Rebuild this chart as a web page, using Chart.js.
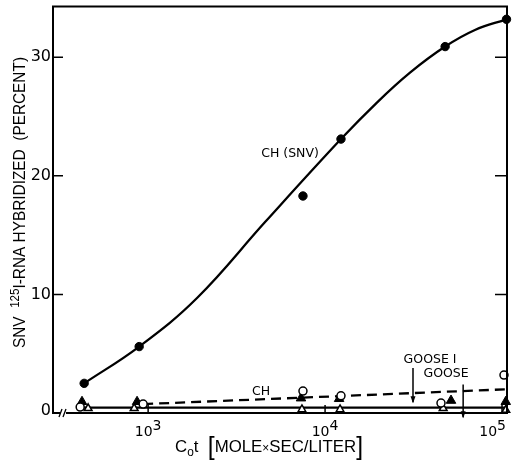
<!DOCTYPE html>
<html>
<head>
<meta charset="utf-8">
<script src="https://cdn.jsdelivr.net/npm/chart.js@4/dist/chart.umd.min.js"></script>
<style>
html,body{margin:0;padding:0;background:#fff;}
canvas{display:block;}
</style>
</head>
<body>
<canvas id="c" width="521" height="460"></canvas>
<script>
// ---- data ----
// CH (SNV): filled circles
const snvCot = [435, 890, 7500, 12300, 47700, 106000];
const snvVal = [2.5, 5.6, 18.3, 23.1, 30.9, 33.2];
// smooth curve drawn through CH (SNV)
const curveCot = [435, 890, 1890, 4580, 12300, 19700, 30200, 47700, 70300, 106000];
const curveVal = [2.5, 5.6, 9.7, 16.1, 23.1, 26.2, 28.7, 30.9, 32.3, 33.2];
// CH: open circles
const chCot = [413, 937, 7500, 12300, 45200, 102600];
const chVal = [0.5, 0.75, 1.85, 1.45, 0.84, 3.2];
// GOOSE I: filled triangles
const gooseICot = [423, 866, 7310, 12000, 51500, 105000];
const gooseIVal = [0.95, 0.95, 1.25, 1.2, 1.05, 0.95];
// GOOSE: open triangles
const gooseCot = [458, 834, 7400, 12150, 46500, 105000];
const gooseVal = [0.4, 0.4, 0.3, 0.3, 0.4, 0.25];
// fitted lines
const chLineCot = [937, 106000];
const chLineVal = [0.75, 2.0];
const gooseLineCot = [435, 106000];
const gooseLineVal = [0.45, 0.45];
// axis ticks
const xTickExp = [3, 4, 5];
const yTicks = [0, 10, 20, 30];

const pts = (xs, ys) => xs.map((x, i) => ({x: x, y: ys[i]}));

const FONT = '"DejaVu Sans", sans-serif';
const LFONT = '"Liberation Sans", Arial, sans-serif';

function drawParts(ctx, parts, startX, baseY, sx, fam) {
  ctx.save();
  ctx.translate(startX, baseY);
  ctx.scale(sx, 1);
  let x = 0;
  for (const p of parts) {
    ctx.font = p.f + 'px ' + fam;
    ctx.fillText(p.t, x, p.dy || 0);
    x += ctx.measureText(p.t).width;
  }
  ctx.restore();
}
function partsWidth(ctx, parts, fam) {
  let w = 0;
  for (const p of parts) { ctx.font = p.f + 'px ' + fam; w += ctx.measureText(p.t).width; }
  return w;
}

const annot = {
  id: 'annot',
  afterDraw(chart) {
    const ctx = chart.ctx;
    const xs = chart.scales.x, ys = chart.scales.y;
    const a = chart.chartArea;
    ctx.save();
    ctx.strokeStyle = '#000';
    ctx.fillStyle = '#000';
    ctx.lineWidth = 2;
    // frame
    ctx.beginPath();
    ctx.moveTo(a.left, a.top); ctx.lineTo(a.right, a.top);
    ctx.lineTo(a.right, a.bottom); ctx.lineTo(a.left, a.bottom); ctx.closePath();
    ctx.stroke();
    // axis break on the x axis
    ctx.fillStyle = '#fff';
    ctx.fillRect(a.left + 7, a.bottom - 2, 6, 4);
    ctx.fillStyle = '#000';
    ctx.lineWidth = 1.3;
    ctx.beginPath();
    ctx.moveTo(a.left + 6, a.bottom + 4); ctx.lineTo(a.left + 9, a.bottom - 4);
    ctx.moveTo(a.left + 10, a.bottom + 4); ctx.lineTo(a.left + 13, a.bottom - 4);
    ctx.stroke();
    // y ticks (inward, left and right)
    ctx.lineWidth = 1.5;
    for (const v of yTicks) {
      if (v === 0) continue;
      const py = ys.getPixelForValue(v);
      ctx.beginPath();
      ctx.moveTo(a.left, py); ctx.lineTo(a.left + 10, py);
      ctx.moveTo(a.right, py); ctx.lineTo(a.right - 12, py);
      ctx.stroke();
    }
    // y tick labels
    ctx.font = '16px ' + FONT;
    ctx.textAlign = 'right';
    ctx.textBaseline = 'middle';
    for (const v of yTicks) {
      const py = ys.getPixelForValue(v);
      ctx.fillText(String(v), a.left - 2, py - (v === 0 ? 2 : 0));
    }
    // x ticks and labels
    ctx.textAlign = 'left';
    ctx.textBaseline = 'alphabetic';
    for (const e of xTickExp) {
      const v = Math.pow(10, e);
      const px = xs.getPixelForValue(v);
      ctx.beginPath();
      ctx.moveTo(px, a.bottom); ctx.lineTo(px, a.bottom - 8);
      ctx.stroke();
      ctx.font = '14px ' + FONT;
      const w1 = ctx.measureText('10').width;
      const w2 = ctx.measureText(String(e)).width;
      let sx = px - (w1 + w2) / 2;
      if (sx + w1 + w2 > a.right) sx = a.right - (w1 + w2) - 1;
      ctx.fillText('10', sx, 436);
      ctx.fillText(String(e), sx + w1, 430);
    }
    // x axis title
    const xParts = [
      {t: 'C', f: 17}, {t: 'o', f: 12, dy: 4}, {t: 't', f: 17}, {t: '  ', f: 17},
      {t: '[', f: 25, dy: 3}, {t: 'MOLE', f: 17}, {t: '×', f: 12}, {t: 'SEC/LITER', f: 17}, {t: ']', f: 25, dy: 3}
    ];
    const xw = partsWidth(ctx, xParts, LFONT);
    drawParts(ctx, xParts, 175, 452, 188 / xw, LFONT);
    // y axis title (rotated)
    const yParts = [
      {t: 'SNV  ', f: 16}, {t: '125', f: 12, dy: -6}, {t: 'I-RNA HYBRIDIZED  (PERCENT)', f: 16}
    ];
    const yw = partsWidth(ctx, yParts, LFONT);
    ctx.save();
    ctx.translate(25, 348);
    ctx.rotate(-Math.PI / 2);
    drawParts(ctx, yParts, 0, 0, 291 / yw, LFONT);
    ctx.restore();

    // in-plot labels
    ctx.font = '12.5px ' + FONT;
    ctx.textAlign = 'center';
    ctx.textBaseline = 'middle';
    ctx.fillText('CH (SNV)', xs.getPixelForValue(6340), ys.getPixelForValue(21.9));
    ctx.fillText('CH', xs.getPixelForValue(4350), ys.getPixelForValue(1.76));
    ctx.fillText('GOOSE I', xs.getPixelForValue(39200), ys.getPixelForValue(4.5));
    ctx.fillText('GOOSE', xs.getPixelForValue(48300), ys.getPixelForValue(3.3));

    // arrows
    function arrow(xv, y0, y1) {
      const px = xs.getPixelForValue(xv);
      const p0 = ys.getPixelForValue(y0), p1 = ys.getPixelForValue(y1);
      ctx.lineWidth = 1.5;
      ctx.beginPath(); ctx.moveTo(px, p0); ctx.lineTo(px, p1); ctx.stroke();
      ctx.beginPath();
      ctx.moveTo(px, p1 + 1); ctx.lineTo(px - 2.5, p1 - 6); ctx.lineTo(px + 2.5, p1 - 6); ctx.closePath();
      ctx.fill();
    }
    arrow(31400, 3.8, 0.9);
    arrow(60300, 2.4, -0.35);
    ctx.restore();
  }
};

const chart = new Chart(document.getElementById('c'), {
  type: 'line',
  data: {
    datasets: [
      {data: pts(snvCot, snvVal), showLine: false, pointStyle: 'circle', pointRadius: 4.2,
       pointBackgroundColor: '#000', pointBorderColor: '#000', pointBorderWidth: 1, clip: false, order: 0},
      {data: pts(chCot, chVal), showLine: false, pointStyle: 'circle', pointRadius: 4,
       pointBackgroundColor: '#fff', pointBorderColor: '#000', pointBorderWidth: 1.5, clip: false, order: 0},
      {data: pts(gooseICot, gooseIVal), showLine: false, pointStyle: 'triangle', pointRadius: 5.5,
       pointBackgroundColor: '#000', pointBorderColor: '#000', pointBorderWidth: 1, clip: false, order: 0},
      {data: pts(gooseCot, gooseVal), showLine: false, pointStyle: 'triangle', pointRadius: 4.5,
       pointBackgroundColor: '#fff', pointBorderColor: '#000', pointBorderWidth: 1.5, clip: false, order: 0},
      {data: pts(curveCot, curveVal), pointRadius: 0, borderColor: '#000', borderWidth: 2.3,
       tension: 0.4, fill: false, clip: false, order: 5},
      {data: pts(chLineCot, chLineVal), pointRadius: 0, borderColor: '#000', borderWidth: 2.3,
       borderDash: [10, 6], fill: false, clip: false, order: 5},
      {data: pts(gooseLineCot, gooseLineVal), pointRadius: 0, borderColor: '#000', borderWidth: 2.3,
       fill: false, clip: false, order: 5}
    ]
  },
  options: {
    responsive: false,
    animation: false,
    devicePixelRatio: 1,
    layout: {padding: {left: 0, right: 14, top: 4, bottom: 0}},
    plugins: {legend: {display: false}, tooltip: {enabled: false}},
    scales: {
      x: {type: 'logarithmic', min: 290, max: 106700,
          grid: {display: false}, border: {display: false}, ticks: {display: false},
          afterFit(s) { s.height = 47; }},
      y: {type: 'linear', min: 0, max: 34.28,
          grid: {display: false}, border: {display: false}, ticks: {display: false},
          afterFit(s) { s.width = 53; }}
    }
  },
  plugins: [annot]
});
</script>
</body>
</html>
